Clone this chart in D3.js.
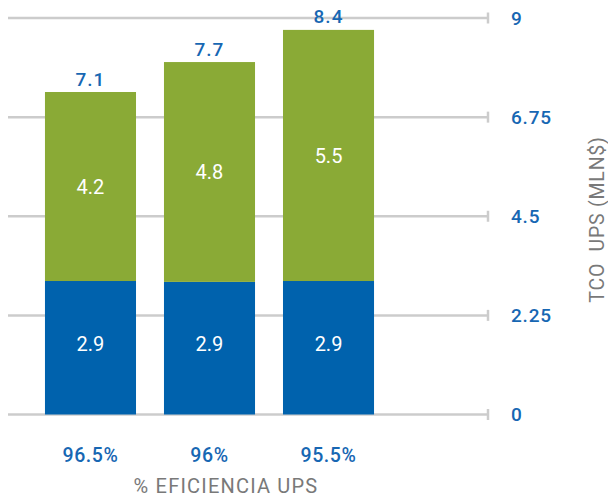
<!DOCTYPE html>
<html>
<head>
<meta charset="utf-8">
<script src="https://cdn.jsdelivr.net/npm/d3@7"></script>
<style>
  body { margin: 0; background: #fff; }
  svg { display: block; font-family: Roboto, "DejaVu Sans", sans-serif; }
</style>
</head>
<body>
<div id="chart"></div>
<script>
'use strict';

// categories (efficiency) and series
var categories  = ['96.5%', '96%', '95.5%'];
var blueValues  = [3.03, 3.01, 3.03];   // bottom segment heights
var greenValues = [4.29, 4.99, 5.70];   // top segment heights
var blueLabels  = ['2.9', '2.9', '2.9'];
var greenLabels = ['4.2', '4.8', '5.5'];
var totalLabels = ['7.1', '7.7', '8.4'];
var tickValues  = [0, 2.25, 4.5, 6.75, 9];

var width = 608, height = 498;
var blue = '#0062ad', green = '#8aaa36', textBlue = '#1767b3', grey = '#797979', gridCol = '#cccccc';

var svg = d3.select('#chart')
    .append('svg')
    .attr('width', width)
    .attr('height', height);

var x = d3.scaleBand()
    .domain(categories)
    .range([17, 402])
    .padding(0.235);

var y = d3.scaleLinear()
    .domain([0, 9])
    .range([414.5, 18]);

// gridlines with end caps
var grid = svg.append('g');
grid.selectAll('line.grid')
    .data(tickValues)
    .enter()
    .append('line')
    .attr('class', 'grid')
    .attr('x1', 8).attr('x2', 488)
    .attr('y1', function (d) { return y(d); })
    .attr('y2', function (d) { return y(d); })
    .attr('stroke', gridCol)
    .attr('stroke-width', 2.5);
grid.selectAll('line.cap')
    .data(tickValues)
    .enter()
    .append('line')
    .attr('class', 'cap')
    .attr('x1', 488).attr('x2', 488)
    .attr('y1', function (d) { return y(d) - 5.5; })
    .attr('y2', function (d) { return y(d) + 5.5; })
    .attr('stroke', gridCol)
    .attr('stroke-width', 2.5);

// right axis labels
svg.selectAll('text.tick')
    .data(tickValues)
    .enter()
    .append('text')
    .attr('class', 'tick')
    .attr('x', 511)
    .attr('y', function (d) { return y(d); })
    .attr('dy', '0.36em')
    .attr('fill', textBlue)
    .attr('font-size', 19)
    .attr('font-weight', 500)
    .attr('letter-spacing', 0.8)
    .text(function (d) { return d; });

// stacked bars
var bars = svg.selectAll('g.bar')
    .data(categories)
    .enter()
    .append('g')
    .attr('class', 'bar');

bars.append('rect')
    .attr('x', function (d) { return x(d); })
    .attr('width', x.bandwidth())
    .attr('y', function (d, i) { return y(blueValues[i]); })
    .attr('height', function (d, i) { return y(0) - y(blueValues[i]); })
    .attr('fill', blue);

bars.append('rect')
    .attr('x', function (d) { return x(d); })
    .attr('width', x.bandwidth())
    .attr('y', function (d, i) { return y(blueValues[i] + greenValues[i]); })
    .attr('height', function (d, i) { return y(blueValues[i]) - y(blueValues[i] + greenValues[i]); })
    .attr('fill', green);

// segment labels
bars.append('text')
    .attr('x', function (d) { return x(d) + x.bandwidth() / 2; })
    .attr('y', function (d, i) { return (y(0) + y(blueValues[i])) / 2 - 4; })
    .attr('dy', '0.36em')
    .attr('text-anchor', 'middle')
    .attr('fill', '#fff')
    .attr('font-size', 20)
    .text(function (d, i) { return blueLabels[i]; });

bars.append('text')
    .attr('x', function (d) { return x(d) + x.bandwidth() / 2; })
    .attr('y', function (d, i) { return (y(blueValues[i]) + y(blueValues[i] + greenValues[i])) / 2; })
    .attr('dy', '0.36em')
    .attr('text-anchor', 'middle')
    .attr('fill', '#fff')
    .attr('font-size', 20)
    .text(function (d, i) { return greenLabels[i]; });

// totals above bars
bars.append('text')
    .attr('x', function (d) { return x(d) + x.bandwidth() / 2; })
    .attr('y', function (d, i) { return y(blueValues[i] + greenValues[i]) - 6.5; })
    .attr('text-anchor', 'middle')
    .attr('fill', textBlue)
    .attr('font-size', 19)
    .attr('font-weight', 500)
    .attr('letter-spacing', 1)
    .text(function (d, i) { return totalLabels[i]; });

// category labels
bars.append('text')
    .attr('x', function (d) { return x(d) + x.bandwidth() / 2; })
    .attr('y', 462)
    .attr('text-anchor', 'middle')
    .attr('fill', textBlue)
    .attr('font-size', 19.5)
    .attr('font-weight', 500)
    .attr('letter-spacing', 0.6)
    .text(function (d) { return d; });

// axis titles
svg.append('text')
    .attr('x', 226)
    .attr('y', 493)
    .attr('text-anchor', 'middle')
    .attr('fill', grey)
    .attr('font-size', 20)
    .attr('letter-spacing', 1.2)
    .text('% EFICIENCIA UPS');

svg.append('text')
    .attr('transform', 'translate(604,219.5) rotate(-90)')
    .attr('text-anchor', 'middle')
    .attr('fill', grey)
    .attr('font-size', 19.5)
    .attr('letter-spacing', 0.8)
    .style('white-space', 'pre')
    .text('TCO  UPS (MLN$)');
</script>
</body>
</html>
